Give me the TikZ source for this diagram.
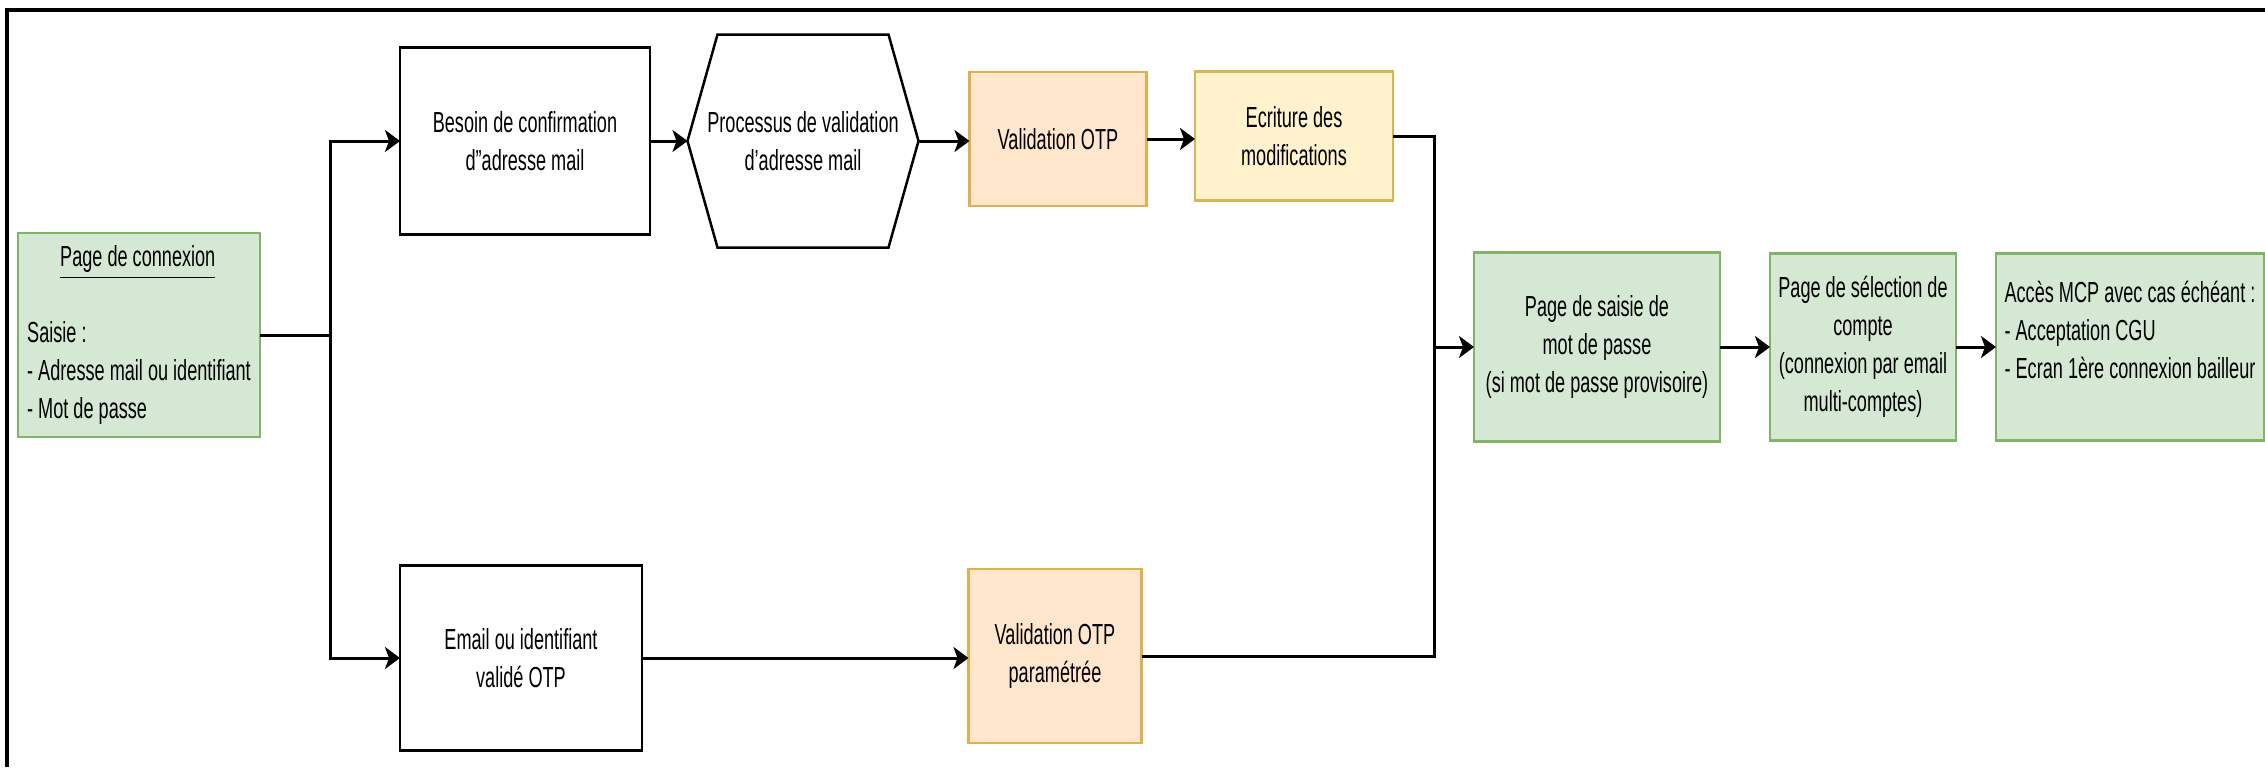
\documentclass[tikz,border=0pt]{standalone}
\usepackage{fontspec}
\setmainfont{Liberation Sans}[FakeStretch=0.625]
\usepackage{tikz}
\usetikzlibrary{arrows.meta, calc}
\definecolor{greenfill}{HTML}{D5E8D4}
\definecolor{greenline}{HTML}{82B366}
\definecolor{orangefill}{HTML}{FFE6CC}
\definecolor{orangeline}{HTML}{E0B050}
\definecolor{yellowfill}{HTML}{FFF2CC}
\definecolor{yellowline}{HTML}{D6B656}

\begin{document}
\begin{tikzpicture}[%
    whitebox/.style={
      BoxStyle,
      draw=black
    },
    greenbox/.style={
      BoxStyle,
      draw=greenline,
      fill=greenfill
    },
    orangebox/.style={
      BoxStyle,
      draw=orangeline,
      fill=orangefill
    },
    yellowbox/.style={
      BoxStyle,
      draw=yellowline,
      fill=yellowfill
    },
    link/.style={draw, line width=0.3mm},
    flow/.style={link, -{Stealth[length=1.5mm,width=2.2mm,inset=0.4mm]}}]
    \tikzset{BoxStyle/.style = {shape = rectangle, line width = 0.25mm, inner sep = 0.8mm, outer sep = 0, align = center, font = \fontsize{8.25pt}{10.8pt}\selectfont}}
    \useasboundingbox (0,0) rectangle (22.65,7.67);
    \draw[line width=0.4mm] (0.07,0) |- (22.65,7.57);

    \node[greenbox, minimum width=2.42cm, minimum height=2.04cm, align=left] at (1.39,4.32) (conn)
        {\hspace*{0.33cm}\underline{Page de connexion}\\[3.8mm]Saisie :\\- Adresse mail ou identifiant\\- Mot de passe};
    \node[whitebox, minimum width=2.50cm, minimum height=1.87cm] at (5.25,6.26) (besoin)
        {Besoin de confirmation\\d"adresse mail};
    \node[BoxStyle, minimum width=2.31cm, minimum height=2.13cm] at (8.03,6.26) (proc)
        {Processus de validation\\d'adresse mail};
    \node[orangebox, minimum width=1.77cm, minimum height=1.34cm] at (10.58,6.28) (otp)
        {Validation OTP};
    \node[yellowbox, minimum width=1.98cm, minimum height=1.29cm] at (12.94,6.31) (ecr)
        {Ecriture des\\modifications};
    \node[whitebox, minimum width=2.42cm, minimum height=1.85cm] at (5.21,1.09) (email)
        {Email ou identifiant\\validé OTP};
    \node[orangebox, minimum width=1.73cm, minimum height=1.74cm] at (10.55,1.11) (otpp)
        {Validation OTP\\paramétrée};
    \node[greenbox, minimum width=2.46cm, minimum height=1.89cm] at (15.97,4.20) (saisie)
        {Page de saisie de\\mot de passe\\(si mot de passe provisoire)};
    \node[greenbox, minimum width=1.86cm, minimum height=1.87cm] at (18.63,4.20) (select)
        {Page de sélection de\\compte\\(connexion par email\\multi-comptes)};
    \node[greenbox, minimum width=2.68cm, minimum height=1.87cm, align=left] at (21.30,4.20) (acces)
        {Accès MCP avec cas échéant :\\- Acceptation CGU\\- Ecran 1ère connexion bailleur\\[-0.4mm]\mbox{}};

    \draw[line width=0.25mm] (proc.west) -- ($(proc.north west)+(0.3,0)$)
        -- ($(proc.north east)+(-0.3,0)$) -- (proc.east)
        -- ($(proc.south east)+(-0.3,0)$) -- ($(proc.south west)+(0.3,0)$) -- cycle;

    \coordinate (split) at (3.30,4.32);
    \coordinate (merge) at (14.34,4.20);

    \path[link] (conn.east) -- (split);
    \path[flow] (split) |- (besoin.west);
    \path[flow] (split) |- (email.west);
    \path[flow] (besoin.east) -- (proc.west);
    \path[flow] (proc.east) -- (proc.east -| otp.west);
    \path[flow] (otp.east) -- (otp.east -| ecr.west);
    \path[flow] (email.east) -- (email.east -| otpp.west);
    \path[link] (ecr.east) -| (merge);
    \path[link] (otpp.east) -| (merge);
    \path[flow] (merge) -- (saisie.west);
    \path[flow] (saisie.east) -- (select.west);
    \path[flow] (select.east) -- (acces.west);
\end{tikzpicture}
\end{document}
